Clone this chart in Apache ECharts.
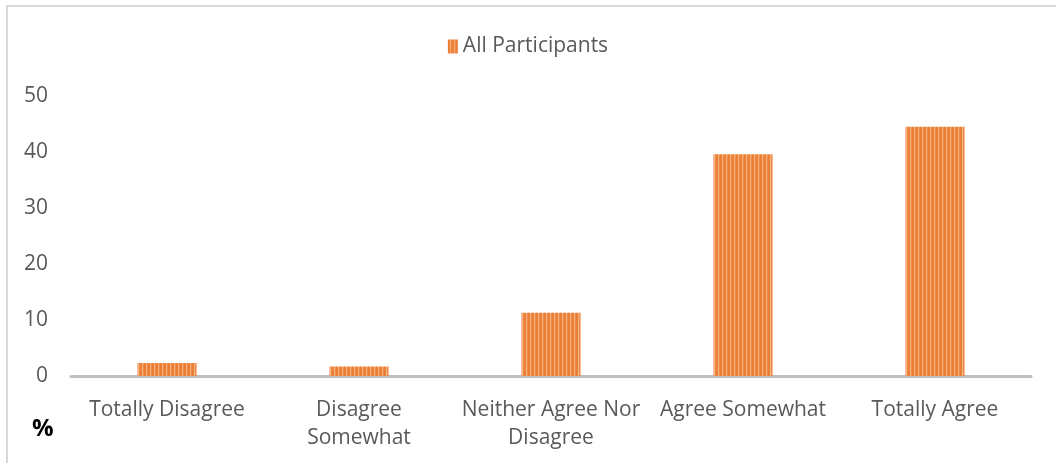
<!DOCTYPE html>
<html>
<head>
<meta charset="utf-8">
<style>
  html, body { margin: 0; padding: 0; background: #ffffff; }
  #chart { width: 1056px; height: 463px; }
</style>
<script src="https://cdn.jsdelivr.net/npm/echarts@6/dist/echarts.min.js"></script>
</head>
<body>
<div id="chart"></div>
<script>
// Response categories along the x axis
const categories = [
  'Totally Disagree',
  'Disagree\nSomewhat',
  'Neither Agree Nor\nDisagree',
  'Agree Somewhat',
  'Totally Agree'
];
// Share of all participants per response, in %
const allParticipants = [2.3, 1.7, 11.3, 39.6, 44.5];
const seriesName = 'All Participants';
const yTicks = { min: 0, max: 50, interval: 10 };

// Vertical-stripe fill used for the bars and the legend swatch
function stripePattern() {
  const c = document.createElement('canvas');
  c.width = 4; c.height = 4;
  const ctx = c.getContext('2d');
  const cols = ['#ED7D31', '#EE8038', '#F5B084', '#EF8C4A'];
  cols.forEach((col, i) => { ctx.fillStyle = col; ctx.fillRect(i, 0, 1, 4); });
  return c;
}

const chart = echarts.init(document.getElementById('chart'), null, { renderer: 'canvas' });
const fontFamily = '"Open Sans", "Noto Sans", sans-serif';

chart.setOption({
  animation: false,
  backgroundColor: '#ffffff',
  grid: { left: 71, right: 25, top: 96, bottom: 87, containLabel: false },
  legend: {
    data: [seriesName],
    top: 31,
    left: 'center',
    itemWidth: 10,
    itemHeight: 14,
    itemGap: 10,
    icon: 'rect',
    textStyle: { color: '#595959', fontSize: 21, fontFamily }
  },
  xAxis: {
    type: 'category',
    data: categories,
    axisLine: { show: true, lineStyle: { color: '#BFBFBF', width: 3 } },
    axisTick: { show: false },
    axisLabel: {
      color: '#595959', fontSize: 21, fontFamily, margin: 20,
      lineHeight: 28, interval: 0
    }
  },
  yAxis: {
    type: 'value',
    min: yTicks.min, max: yTicks.max, interval: yTicks.interval,
    axisLine: { show: false },
    axisTick: { show: false },
    splitLine: { show: false },
    axisLabel: { color: '#595959', fontSize: 21, fontFamily, margin: 23 }
  },
  series: [{
    name: seriesName,
    type: 'bar',
    data: allParticipants,
    barWidth: 59,
    itemStyle: { color: { image: stripePattern(), repeat: 'repeat' } }
  }],
  graphic: [
    {
      type: 'rect',
      shape: { x: 7, y: 6, width: 1070, height: 480 },
      style: { fill: 'none', stroke: '#D9D9D9', lineWidth: 2 },
      silent: true
    },
    {
      type: 'text',
      left: 32, top: 417,
      style: { text: '%', fill: '#000000', font: 'bold 24px ' + fontFamily }
    }
  ]
});
</script>
</body>
</html>
